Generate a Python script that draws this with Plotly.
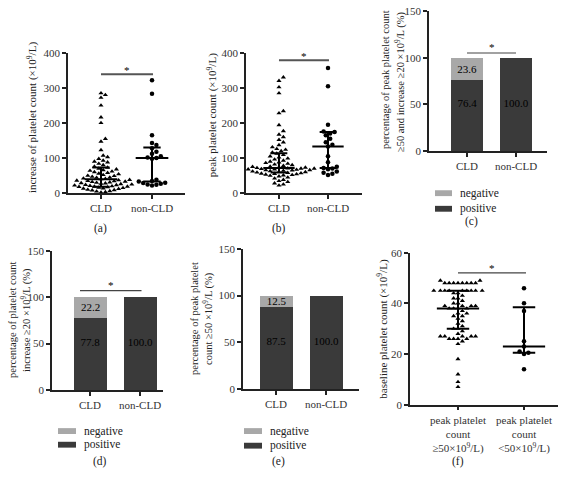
import numpy as np
import plotly.graph_objects as go

# ---------------- data ----------------
groups_cld = ["CLD", "non-CLD"]

# (a) increase of platelet count (x10^9/L)
inc_cld = [2, 3, 5, 6, 8, 9, 10, 12, 13, 14, 15, 16, 17, 18, 19, 19,
           20, 21, 22, 23, 24, 25, 26, 27, 28, 29, 30, 31, 32, 33, 34, 35, 36, 37, 38, 40,
           41, 42, 44, 45, 47, 49, 50, 52, 54, 56, 58, 60, 62, 64, 66, 68, 70, 73,
           76, 80, 84, 88, 90, 93, 98, 103, 107, 123, 147, 155, 200, 216, 250, 272, 280, 285]
inc_noncld = [22, 24, 25, 27, 29, 30, 33, 35, 38, 98, 100, 102, 105, 112, 118, 128, 137, 143, 165, 283, 322]
inc_median = [40, 100]
inc_q1 = [18, 33]
inc_q3 = [73, 130]

# (b) peak platelet count (x10^9/L)
peak_cld = [22, 25, 28, 32, 35, 38, 42, 45, 48,
            50, 51, 52, 53, 54, 55, 56, 57, 58,
            59, 60, 61, 62, 63, 64, 65, 66, 66, 67, 68, 68, 69, 70, 70, 71, 71, 72,
            73, 74, 75, 76, 78, 80, 82, 84, 86, 88, 90, 93, 96, 99, 102, 105, 109, 113,
            116, 120, 124, 126, 131, 137, 145, 152, 160, 167, 177, 194, 228, 234, 285, 302, 320, 330]
peak_noncld = [52, 55, 58, 62, 68, 70, 72, 75, 88, 105, 133, 138, 145, 155, 165, 170, 174, 176, 195, 305, 357]
peak_median = [72, 133]
peak_q1 = [59, 72]
peak_q3 = [114, 174]

# (c) peak >=50 and increase >=20 (%)
c_positive = [76.4, 100.0]
c_negative = [23.6, 0.0]
# (d) increase >=20 (%)
d_positive = [77.8, 100.0]
d_negative = [22.2, 0.0]
# (e) peak >=50 (%)
e_positive = [87.5, 100.0]
e_negative = [12.5, 0.0]

# (f) baseline platelet count (x10^9/L)
groups_f = ["peak platelet<br>count<br>≥50×10<sup>9</sup>/L)", "peak platelet<br>count<br><50×10<sup>9</sup>/L)"]
base_ge50 = [49, 49, 48, 48, 48, 48, 48, 48, 48, 48,
             45, 45, 45, 45, 45, 45, 45, 45, 45,
             44, 44, 43, 42, 42, 41, 40, 40,
             39, 39, 39, 39, 38, 38, 38, 38,
             37, 36, 36, 35, 35, 34, 33, 32, 31, 30, 30, 29, 28,
             27, 27, 27, 27, 27, 26, 26, 26, 26, 25, 24, 18, 12, 9, 7]
base_lt50 = [14, 20, 20.5, 21, 23, 25, 37, 40, 46]
base_median = [38, 23]
base_q1 = [30, 20.5]
base_q3 = [45, 38.5]

# ---------------- geometry helpers ----------------
W, H = 570, 478
FONT = "Liberation Serif"
DARK = "#3a3a3a"
LIGHT = "#a8a8a8"


def fx(x):
    return x / W


def fy(y):
    return 1 - y / H


panels = {
    "a": dict(n="", x0=68, x1=185, yt=48, yb=192, xr=[-0.647, 1.647], yr=[0, 400], dt=100),
    "b": dict(n="2", x0=246, x1=362, yt=48, yb=192, xr=[-0.673, 1.694], yr=[0, 400], dt=100),
    "c": dict(n="3", x0=429, x1=547, yt=5, yb=149, xr=[-0.776, 1.633], yr=[0, 150], dt=50),
    "d": dict(n="4", x0=52, x1=163, yt=251, yb=394, xr=[-0.76, 1.46], yr=[0, 150], dt=50),
    "e": dict(n="5", x0=243, x1=359, yt=249, yb=393, xr=[-0.66, 1.66], yr=[0, 150], dt=50),
    "f": dict(n="6", x0=410, x1=558, yt=253, yb=409, xr=[-0.727, 1.515], yr=[0, 60], dt=20),
}


def scales(p):
    sx = (p["x1"] - p["x0"]) / (p["xr"][1] - p["xr"][0])
    sy = (p["yb"] - p["yt"]) / (p["yr"][1] - p["yr"][0])
    return sx, sy


def swarm(vals, sx, sy, d=4.4):
    vals = np.asarray(vals, float)
    order = np.argsort(vals)
    pts = []
    off = np.zeros(len(vals))
    step = d * 0.5
    for i in order:
        yv = vals[i] * sy
        k = 0
        while True:
            cand = 0.0 if k == 0 else ((k + 1) // 2) * step * (1 if k % 2 else -1)
            if all((cand - a) ** 2 + (yv - b) ** 2 >= d * d for a, b in pts):
                break
            k += 1
        pts.append((cand, yv))
        off[i] = cand / sx
    return off


fig = go.Figure()


def add_scatter(key, vals_list, symbols, med, q1, q3):
    p = panels[key]
    sx, sy = scales(p)
    ax = "x" + p["n"]
    ay = "y" + p["n"]
    for gi, (vals, sym) in enumerate(zip(vals_list, symbols)):
        off = swarm(vals, sx, sy)
        fig.add_trace(go.Scatter(x=gi + off, y=vals, mode="markers", xaxis=ax, yaxis=ay,
                                 marker=dict(symbol=sym, size=4.5, color="black"),
                                 showlegend=False, cliponaxis=False))
    # median + IQR bars
    mw, cw = 0.32, 0.17
    xs, ys = [], []
    for gi in range(len(vals_list)):
        xs += [gi - mw, gi + mw, None, gi - cw, gi + cw, None, gi - cw, gi + cw, None, gi, gi, None]
        ys += [med[gi], med[gi], None, q1[gi], q1[gi], None, q3[gi], q3[gi], None, q1[gi], q3[gi], None]
    fig.add_trace(go.Scatter(x=xs, y=ys, mode="lines", xaxis=ax, yaxis=ay,
                             line=dict(color="black", width=2), showlegend=False, cliponaxis=False))


BAR_FONT = dict(family=FONT, size=11, color="black")


def add_bars(key, pos, neg):
    p = panels[key]
    ax = "x" + p["n"]
    ay = "y" + p["n"]
    bw = 0.66
    fig.add_trace(go.Bar(x=[0, 1], y=pos, width=bw, xaxis=ax, yaxis=ay,
                         marker=dict(color=DARK, line=dict(width=0)), showlegend=False))
    fig.add_trace(go.Bar(x=[0, 1], y=neg, width=bw, xaxis=ax, yaxis=ay,
                         marker=dict(color=LIGHT, line=dict(width=0)),
                         text=[f"{v:.1f}" if v > 0 else "" for v in neg], textposition="inside",
                         insidetextanchor="middle", textangle=0, textfont=BAR_FONT, showlegend=False))
    # positive labels sit at half the full stacked height
    fig.add_trace(go.Scatter(x=[0, 1], y=[(a + b) / 2 for a, b in zip(pos, neg)], mode="text",
                             text=[f"{v:.1f}" for v in pos], textposition="middle center",
                             textfont=BAR_FONT, xaxis=ax, yaxis=ay, showlegend=False))


def add_sig(key, x0, x1, yline, ystar, width=1.2, color="#444"):
    p = panels[key]
    ax = "x" + p["n"]
    ay = "y" + p["n"]
    fig.add_trace(go.Scatter(x=[x0, x1], y=[yline, yline], mode="lines", xaxis=ax, yaxis=ay,
                             line=dict(color=color, width=width), showlegend=False, cliponaxis=False))
    fig.add_annotation(x=(x0 + x1) / 2, y=ystar, xref=ax, yref=ay, text="*", showarrow=False,
                       font=dict(family=FONT, size=11, color="black"), yanchor="middle")


add_scatter("a", [inc_cld, inc_noncld], ["triangle-up", "circle"], inc_median, inc_q1, inc_q3)
add_scatter("b", [peak_cld, peak_noncld], ["triangle-up", "circle"], peak_median, peak_q1, peak_q3)
add_scatter("f", [base_ge50, base_lt50], ["triangle-up", "circle"], base_median, base_q1, base_q3)
add_bars("c", c_positive, c_negative)
add_bars("d", d_positive, d_negative)
add_bars("e", e_positive, e_negative)

add_sig("a", 0.0, 1.02, 339, 352, width=2, color="#555")
add_sig("b", 0.0, 1.02, 379, 392, width=2, color="#555")
add_sig("c", 0.0, 1.0, 105, 111)
add_sig("d", -0.2, 1.03, 107, 113)
add_sig("f", 0.0, 1.03, 52, 54)

# ---------------- axes ----------------
axis_common = dict(showline=True, linecolor="#222", linewidth=1.5, ticks="outside", ticklen=4, tickwidth=1.5,
                   tickcolor="#222", showgrid=False, zeroline=False,
                   tickfont=dict(family=FONT, size=11, color="#333"))
layout_axes = {}
for key, p in panels.items():
    n = p["n"]
    xt = groups_f if key == "f" else groups_cld
    layout_axes["xaxis" + n] = dict(domain=[fx(p["x0"]), fx(p["x1"])], range=p["xr"], anchor="y" + n,
                                    tickvals=[0, 1], ticktext=xt, **axis_common)
    layout_axes["yaxis" + n] = dict(domain=[fy(p["yb"]), fy(p["yt"])], range=p["yr"], anchor="x" + n,
                                    tick0=0, dtick=p["dt"], **axis_common)

fig.update_layout(width=W, height=H, margin=dict(l=0, r=0, t=0, b=0), paper_bgcolor="white",
                  plot_bgcolor="white", barmode="stack", bargap=0,
                  uniformtext=dict(mode="show", minsize=11), **layout_axes)

# ---------------- axis titles, captions, legends ----------------
def ann(x, y, text, angle=0, size=11.5, xanchor="center"):
    fig.add_annotation(x=fx(x), y=fy(y), xref="paper", yref="paper", text=text, showarrow=False,
                       textangle=angle, xanchor=xanchor, yanchor="middle",
                       font=dict(family=FONT, size=size, color="#222"))


sup9 = "×10<sup>9</sup>/L"
ann(32, 115, f"increase of platelet count ({sup9})", -90, size=11)
ann(212, 112, f"peak platelet count ({sup9})", -90, size=11)
ann(385, 76, "percentage of peak platelet count", -90, size=10.5)
ann(400, 78, f"≥50 and increase ≥20 {sup9} (%)", -90, size=10.5)
ann(13, 322, "percentage of platelet count", -90, size=10.5)
ann(26, 322, f"increase ≥20 {sup9} (%)", -90, size=10.5)
ann(195, 321, "percentage of peak platelet", -90, size=10.5)
ann(208, 321, f"count ≥50 {sup9} (%)", -90, size=10.5)
ann(383, 331, f"baseline platelet count ({sup9})", -90, size=11)

for x, y, t in [(100, 228, "(a)"), (279, 228, "(b)"), (471, 221, "(c)"),
                (100, 467, "(d)"), (278, 467, "(e)"), (458, 467, "(f)")]:
    ann(x, y, t)

for sx0, sx1, yneg, ypos in [(435, 452, 192, 208), (58, 76, 436, 450), (244, 262, 436, 451)]:
    for yy, col, lab in [(yneg, LIGHT, "negative"), (ypos, DARK, "positive")]:
        fig.add_shape(type="rect", xref="paper", yref="paper", x0=fx(sx0), x1=fx(sx1),
                      y0=fy(yy + 3), y1=fy(yy - 3), fillcolor=col, line=dict(width=0))
        ann(sx1 + 6, yy, lab, xanchor="left")

fig.write_html("out.html", config={"displayModeBar": False},
               post_script="document.body.style.margin='0';document.body.style.overflow='hidden';")
